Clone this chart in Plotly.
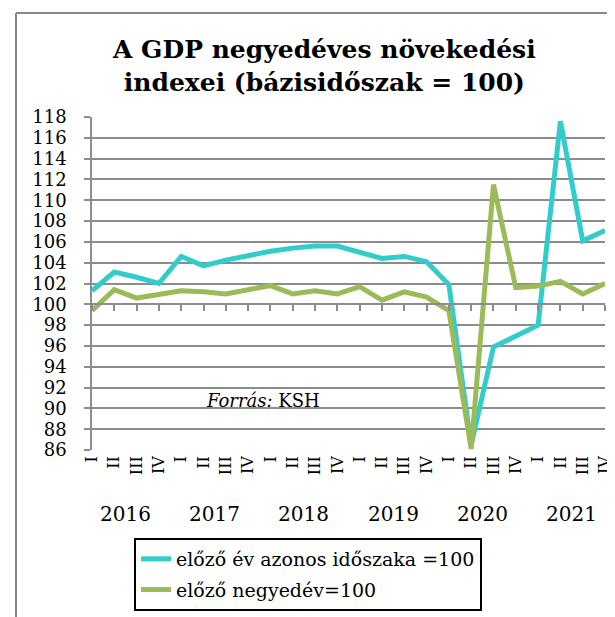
import plotly.graph_objects as go

quarters = ["I", "II", "III", "IV"] * 6
years = ["2016", "2017", "2018", "2019", "2020", "2021"]

yoy = [101.3, 103.1, 102.6, 102.0, 104.6, 103.7, 104.25, 104.7, 105.1, 105.4, 105.6, 105.6,
       105.0, 104.4, 104.6, 104.1, 101.9, 86.5, 95.9, 97.0, 98.0, 117.6, 106.1, 107.1]
qoq = [99.4, 101.4, 100.6, 101.0, 101.3, 101.2, 101.0, 101.4, 101.8, 101.0, 101.3, 101.0,
       101.7, 100.4, 101.2, 100.7, 99.4, 86.1, 111.5, 101.6, 101.75, 102.2, 101.0, 102.0]

name_yoy = "előző év azonos időszaka =100"
name_qoq = "előző negyedév=100"

idx = list(range(len(quarters)))
FONT = "DejaVu Serif"
GRID = "#8c8c8c"

# plot area in pixels (for converting layout positions)
L, R, T, B = 84, 597, 109, 442
PW, PH = R - L, B - T

def px_x(p):
    return (p - L) / PW

def px_y(p):
    return (B - p) / PH

fig = go.Figure()
fig.add_trace(go.Scatter(x=idx, y=yoy, mode="lines", name=name_yoy,
                         line=dict(color="#33CCCC", width=5), legendgroup="a"))
fig.add_trace(go.Scatter(x=idx, y=qoq, mode="lines", name=name_qoq, xaxis="x2",
                         line=dict(color="#9BBB59", width=5), legendgroup="b"))

ymin, ymax = 86, 118
fig.update_layout(
    width=615, height=617,
    margin=dict(l=L, r=615 - R, t=T, b=617 - B, autoexpand=False),
    paper_bgcolor="white", plot_bgcolor="white",
    font=dict(family=FONT, color="black", size=18),
    xaxis=dict(range=[0, len(idx) - 1], tickmode="array", tickvals=idx, ticktext=quarters,
               tickangle=-90, showgrid=False, zeroline=False, showline=False, ticks="",
               tickfont=dict(family=FONT, size=16), ticklabelstandoff=2),
    xaxis2=dict(range=[0, len(idx) - 1], overlaying="x", anchor="free",
                position=(100 - ymin) / (ymax - ymin), side="bottom",
                tickmode="array", tickvals=idx, showticklabels=False,
                ticks="outside", ticklen=6, tickwidth=1.5, tickcolor=GRID,
                showline=True, linecolor=GRID, linewidth=1.5, showgrid=False, zeroline=False),
    yaxis=dict(range=[ymin, ymax], dtick=2, tick0=86, showgrid=True, gridcolor=GRID, gridwidth=1.5,
               zeroline=False, showline=True, linecolor=GRID, linewidth=1.5,
               ticks="outside", ticklen=6, tickwidth=1.5, tickcolor=GRID,
               tickfont=dict(family=FONT, size=18), ticklabelstandoff=14),
    legend=dict(x=px_x(126), y=px_y(530), xanchor="left", yanchor="top",
                bordercolor="black", borderwidth=2,
                bgcolor="white", font=dict(family=FONT, size=19), tracegroupgap=3,
                traceorder="grouped"),
    showlegend=True,
)

fig.add_annotation(x=px_x(316), xref="paper", y=px_y(58), yref="paper",
                   text="<b>A GDP negyedéves növekedési<br>indexei (bázisidőszak = 100)</b>",
                   showarrow=False, xanchor="center", yanchor="middle",
                   font=dict(family=FONT, size=25, color="black"))

for k, yr in enumerate(years):
    fig.add_annotation(x=4 * k + 1.5, xref="x", y=px_y(506), yref="paper",
                       text=yr, showarrow=False, font=dict(family=FONT, size=20),
                       xanchor="center", yanchor="middle")

fig.add_annotation(x=5, xref="x", y=90.8, yref="y", text="<i>Forrás:</i> KSH",
                   showarrow=False, xanchor="left", yanchor="middle",
                   font=dict(family=FONT, size=18))

# outer chart frame (top and left edges)
fig.add_shape(type="line", xref="paper", yref="paper", x0=px_x(8), x1=px_x(616), y0=px_y(5), y1=px_y(5),
              line=dict(color="#888888", width=2))
fig.add_shape(type="line", xref="paper", yref="paper", x0=px_x(8), x1=px_x(8), y0=px_y(5), y1=px_y(618),
              line=dict(color="#888888", width=2))

fig.write_html("out.html")
